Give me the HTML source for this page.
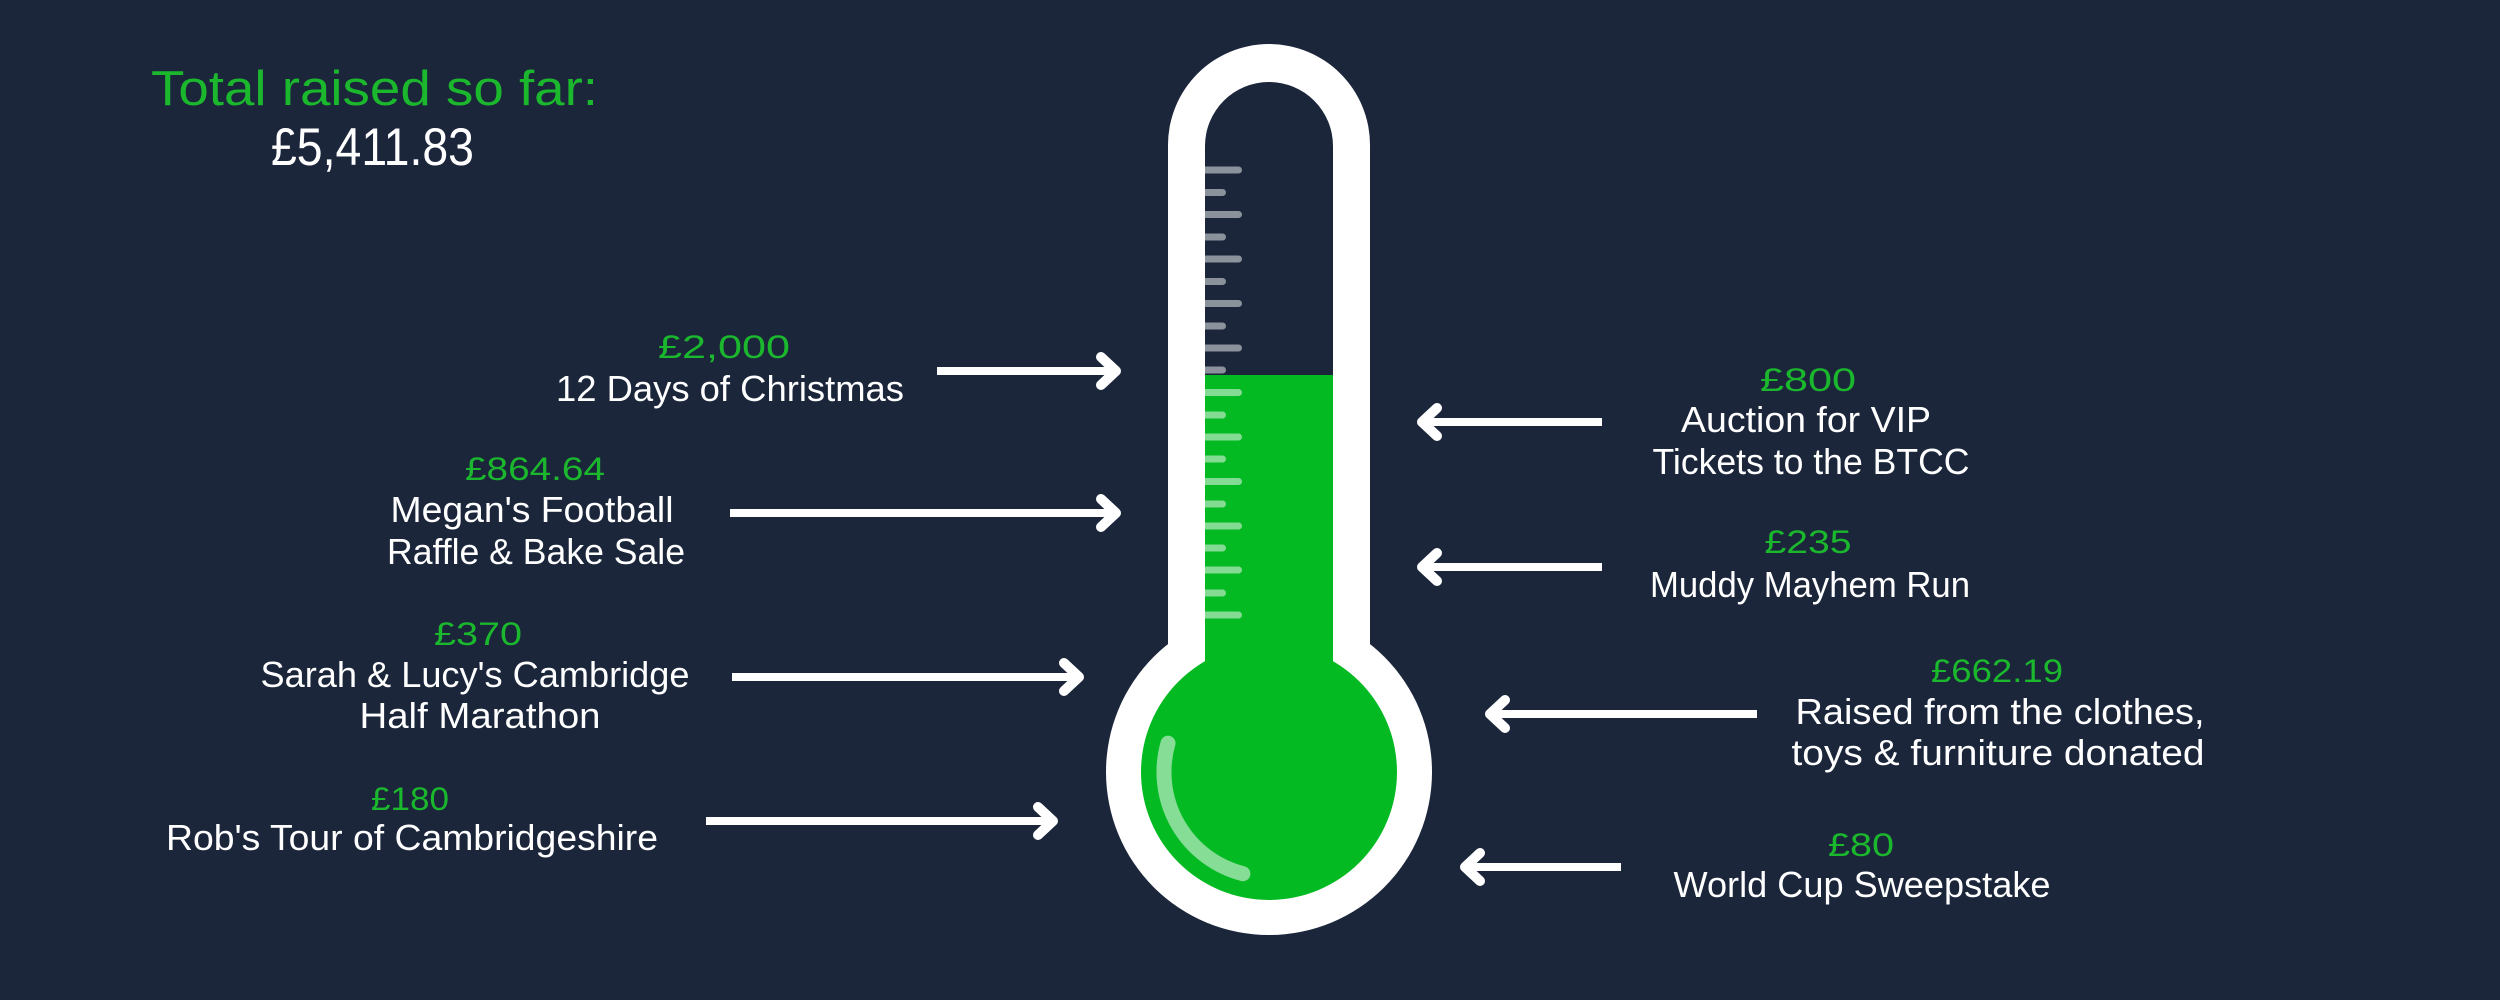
<!DOCTYPE html>
<html>
<head>
<meta charset="utf-8">
<style>
  html, body { margin: 0; padding: 0; background: #1b263b; }
  svg { display: block; }
  text { font-family: "Liberation Sans", "DejaVu Sans", sans-serif; }
</style>
</head>
<body>
<svg width="2500" height="1000" viewBox="0 0 2500 1000" xmlns="http://www.w3.org/2000/svg">
  <rect x="0" y="0" width="2500" height="1000" fill="#1b263b"/>

  <!-- Thermometer outer (white) -->
  <g fill="#ffffff">
    <path d="M1168,145 A101,101 0 0 1 1370,145 L1370,700 L1168,700 Z"/>
    <circle cx="1269" cy="772" r="163"/>
  </g>
  <!-- Inner dark tube -->
  <path d="M1205,146 A64,64 0 0 1 1333,146 L1333,380 L1205,380 Z" fill="#1b263b"/>
  <!-- Green fill -->
  <g fill="#04ba23">
    <rect x="1205" y="375" width="128" height="340"/>
    <circle cx="1269" cy="772" r="128"/>
  </g>

  <!-- Ticks -->
  <g>
    <path d="M1205,166.5 H1238.5 A3.5,3.5 0 0 1 1238.5,173.5 H1205 Z" fill="#8c929c"/>
    <path d="M1205,189 H1222.5 A3.5,3.5 0 0 1 1222.5,196 H1205 Z" fill="#8c929c"/>
    <path d="M1205,211 H1238.5 A3.5,3.5 0 0 1 1238.5,218 H1205 Z" fill="#8c929c"/>
    <path d="M1205,233.5 H1222.5 A3.5,3.5 0 0 1 1222.5,240.5 H1205 Z" fill="#8c929c"/>
    <path d="M1205,255.5 H1238.5 A3.5,3.5 0 0 1 1238.5,262.5 H1205 Z" fill="#8c929c"/>
    <path d="M1205,278 H1222.5 A3.5,3.5 0 0 1 1222.5,285 H1205 Z" fill="#8c929c"/>
    <path d="M1205,300 H1238.5 A3.5,3.5 0 0 1 1238.5,307 H1205 Z" fill="#8c929c"/>
    <path d="M1205,322.5 H1222.5 A3.5,3.5 0 0 1 1222.5,329.5 H1205 Z" fill="#8c929c"/>
    <path d="M1205,344.5 H1238.5 A3.5,3.5 0 0 1 1238.5,351.5 H1205 Z" fill="#8c929c"/>
    <path d="M1205,366.5 H1222.5 A3.5,3.5 0 0 1 1222.5,373.5 H1205 Z" fill="#8c929c"/>
    <path d="M1205,389 H1238.5 A3.5,3.5 0 0 1 1238.5,396 H1205 Z" fill="#84db93"/>
    <path d="M1205,411.5 H1222.5 A3.5,3.5 0 0 1 1222.5,418.5 H1205 Z" fill="#84db93"/>
    <path d="M1205,433.5 H1238.5 A3.5,3.5 0 0 1 1238.5,440.5 H1205 Z" fill="#84db93"/>
    <path d="M1205,455.5 H1222.5 A3.5,3.5 0 0 1 1222.5,462.5 H1205 Z" fill="#84db93"/>
    <path d="M1205,478 H1238.5 A3.5,3.5 0 0 1 1238.5,485 H1205 Z" fill="#84db93"/>
    <path d="M1205,500.5 H1222.5 A3.5,3.5 0 0 1 1222.5,507.5 H1205 Z" fill="#84db93"/>
    <path d="M1205,522.5 H1238.5 A3.5,3.5 0 0 1 1238.5,529.5 H1205 Z" fill="#84db93"/>
    <path d="M1205,544.5 H1222.5 A3.5,3.5 0 0 1 1222.5,551.5 H1205 Z" fill="#84db93"/>
    <path d="M1205,566.5 H1238.5 A3.5,3.5 0 0 1 1238.5,573.5 H1205 Z" fill="#84db93"/>
    <path d="M1205,589.5 H1222.5 A3.5,3.5 0 0 1 1222.5,596.5 H1205 Z" fill="#84db93"/>
    <path d="M1205,611.5 H1238.5 A3.5,3.5 0 0 1 1238.5,618.5 H1205 Z" fill="#84db93"/>
  </g>

  <!-- Bulb highlight -->
  <path d="M1168,743.2 A105,105 0 0 0 1242.9,873.7" fill="none" stroke="#86dd96" stroke-width="15" stroke-linecap="round"/>

  <!-- Arrows -->
  <g stroke="#ffffff" fill="none">
    <!-- right-pointing -->
    <line x1="937" y1="371" x2="1114" y2="371" stroke-width="8"/>
    <polyline points="1101,357 1116,371 1101,385" stroke-width="10" stroke-linecap="round" stroke-linejoin="round"/>

    <line x1="730" y1="513" x2="1114" y2="513" stroke-width="8"/>
    <polyline points="1101,499 1116,513 1101,527" stroke-width="10" stroke-linecap="round" stroke-linejoin="round"/>

    <line x1="732" y1="677" x2="1077" y2="677" stroke-width="8"/>
    <polyline points="1064,663 1079,677 1064,691" stroke-width="10" stroke-linecap="round" stroke-linejoin="round"/>

    <line x1="706" y1="821" x2="1051" y2="821" stroke-width="8"/>
    <polyline points="1038,807 1053,821 1038,835" stroke-width="10" stroke-linecap="round" stroke-linejoin="round"/>

    <!-- left-pointing -->
    <line x1="1424" y1="422" x2="1602" y2="422" stroke-width="8"/>
    <polyline points="1437,408 1422,422 1437,436" stroke-width="10" stroke-linecap="round" stroke-linejoin="round"/>

    <line x1="1424" y1="567" x2="1602" y2="567" stroke-width="8"/>
    <polyline points="1437,553 1422,567 1437,581" stroke-width="10" stroke-linecap="round" stroke-linejoin="round"/>

    <line x1="1492" y1="714" x2="1757" y2="714" stroke-width="8"/>
    <polyline points="1505,700 1490,714 1505,728" stroke-width="10" stroke-linecap="round" stroke-linejoin="round"/>

    <line x1="1467" y1="867" x2="1621" y2="867" stroke-width="8"/>
    <polyline points="1480,853 1465,867 1480,881" stroke-width="10" stroke-linecap="round" stroke-linejoin="round"/>
  </g>

  <!-- Title -->
  <text x="374.5" y="105" font-size="49" fill="#1bb82e" text-anchor="middle" textLength="447" lengthAdjust="spacingAndGlyphs">Total raised so far:</text>
  <text x="372.5" y="165" font-size="53" fill="#ffffff" text-anchor="middle" textLength="203" lengthAdjust="spacingAndGlyphs">£5,411.83</text>

  <!-- Left labels -->
  <g text-anchor="middle">
    <text x="724" y="358" font-size="32" fill="#1bb82e" textLength="132" lengthAdjust="spacingAndGlyphs">£2,000</text>
    <text x="730" y="401" font-size="36" fill="#ffffff" textLength="348" lengthAdjust="spacingAndGlyphs">12 Days of Christmas</text>

    <text x="535" y="480" font-size="32" fill="#1bb82e" textLength="140" lengthAdjust="spacingAndGlyphs">£864.64</text>
    <text x="532" y="522" font-size="36" fill="#ffffff" textLength="283" lengthAdjust="spacingAndGlyphs">Megan's Football</text>
    <text x="536" y="564" font-size="36" fill="#ffffff" textLength="298" lengthAdjust="spacingAndGlyphs">Raffle &amp; Bake Sale</text>

    <text x="478" y="645" font-size="32" fill="#1bb82e" textLength="88" lengthAdjust="spacingAndGlyphs">£370</text>
    <text x="475" y="687" font-size="36" fill="#ffffff" textLength="429" lengthAdjust="spacingAndGlyphs">Sarah &amp; Lucy's Cambridge</text>
    <text x="480" y="728" font-size="36" fill="#ffffff" textLength="241" lengthAdjust="spacingAndGlyphs">Half Marathon</text>

    <text x="410" y="810" font-size="32" fill="#1bb82e" textLength="78" lengthAdjust="spacingAndGlyphs">£180</text>
    <text x="412" y="850" font-size="36" fill="#ffffff" textLength="492" lengthAdjust="spacingAndGlyphs">Rob's Tour of Cambridgeshire</text>
  </g>

  <!-- Right labels -->
  <g text-anchor="middle">
    <text x="1808" y="391" font-size="32" fill="#1bb82e" textLength="96" lengthAdjust="spacingAndGlyphs">£800</text>
    <text x="1806" y="432" font-size="36" fill="#ffffff" textLength="250" lengthAdjust="spacingAndGlyphs">Auction for VIP</text>
    <text x="1811" y="474" font-size="36" fill="#ffffff" textLength="317" lengthAdjust="spacingAndGlyphs">Tickets to the BTCC</text>

    <text x="1808" y="553" font-size="32" fill="#1bb82e" textLength="87" lengthAdjust="spacingAndGlyphs">£235</text>
    <text x="1810" y="597" font-size="36" fill="#ffffff" textLength="320" lengthAdjust="spacingAndGlyphs">Muddy Mayhem Run</text>

    <text x="1997" y="682" font-size="32" fill="#1bb82e" textLength="132" lengthAdjust="spacingAndGlyphs">£662.19</text>
    <text x="2000" y="724" font-size="36" fill="#ffffff" textLength="409" lengthAdjust="spacingAndGlyphs">Raised from the clothes,</text>
    <text x="1998" y="765" font-size="36" fill="#ffffff" textLength="413" lengthAdjust="spacingAndGlyphs">toys &amp; furniture donated</text>

    <text x="1861" y="856" font-size="32" fill="#1bb82e" textLength="66" lengthAdjust="spacingAndGlyphs">£80</text>
    <text x="1862" y="897" font-size="36" fill="#ffffff" textLength="377" lengthAdjust="spacingAndGlyphs">World Cup Sweepstake</text>
  </g>
</svg>
</body>
</html>
